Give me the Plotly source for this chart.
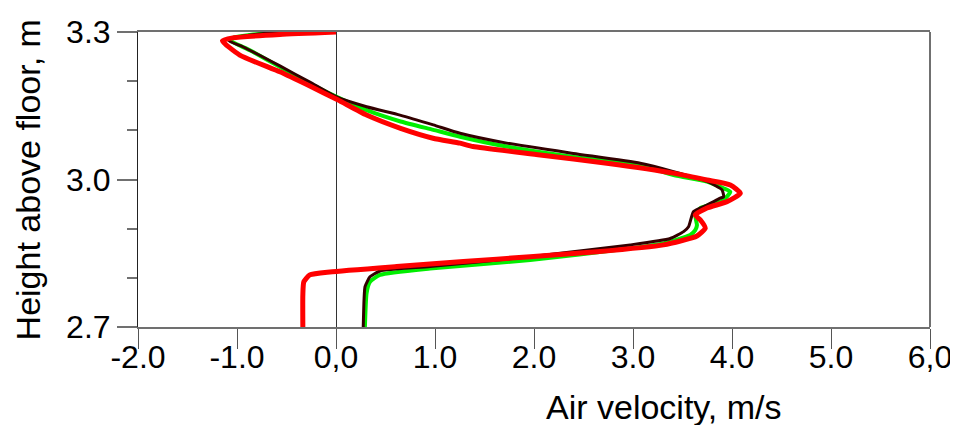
import plotly.graph_objects as go

# Air velocity (m/s) vs height above floor (m)
green_x = [0.0, -0.666, -1.042, -1.063, -0.87, -0.364, 0.006, 0.309, 0.652, 0.983, 1.253, 1.725, 2.398, 3.073, 3.41, 3.747, 3.915, 3.983, 3.912, 3.68, 3.629, 3.646, 3.629, 3.578, 3.308, 2.972, 1.961, 0.95, 0.444, 0.343, 0.309, 0.292]
green_y = [3.3, 3.298, 3.288, 3.282, 3.263, 3.206, 3.168, 3.141, 3.118, 3.101, 3.087, 3.067, 3.046, 3.03, 3.009, 2.996, 2.982, 2.975, 2.958, 2.942, 2.928, 2.907, 2.897, 2.887, 2.87, 2.86, 2.836, 2.819, 2.806, 2.792, 2.769, 2.70]

black_x = [0.0, -0.666, -1.052, -1.083, -0.942, -0.567, -0.264, 0.006, 0.309, 0.646, 0.983, 1.253, 1.725, 2.398, 3.073, 3.41, 3.747, 3.899, 3.915, 3.882, 3.747, 3.612, 3.561, 3.511, 3.376, 2.972, 1.961, 0.95, 0.444, 0.343, 0.293, 0.283, 0.275]
black_y = [3.3, 3.298, 3.288, 3.282, 3.27, 3.231, 3.198, 3.168, 3.148, 3.131, 3.111, 3.094, 3.074, 3.053, 3.033, 3.016, 2.996, 2.979, 2.965, 2.962, 2.948, 2.935, 2.904, 2.894, 2.88, 2.867, 2.843, 2.823, 2.814, 2.802, 2.782, 2.755, 2.70]

red_x = [0.0, -0.567, -1.042, -1.147, -0.972, -0.567, -0.264, 0.017, 0.309, 0.652, 0.98, 1.253, 1.384, 2.062, 2.736, 3.406, 3.747, 3.983, 4.084, 3.949, 3.747, 3.629, 3.679, 3.73, 3.646, 3.308, 2.635, 1.961, 1.286, 0.613, -0.062, -0.264, -0.325, -0.335, -0.335]
red_y = [3.3, 3.295, 3.288, 3.282, 3.253, 3.219, 3.19, 3.162, 3.131, 3.104, 3.084, 3.074, 3.067, 3.05, 3.033, 3.013, 2.999, 2.989, 2.972, 2.955, 2.942, 2.928, 2.918, 2.901, 2.885, 2.867, 2.853, 2.843, 2.833, 2.823, 2.812, 2.806, 2.792, 2.765, 2.70]

x_tickvals = [-2, -1, 0, 1, 2, 3, 4, 5, 6]
x_ticktext = ["-2.0", "-1.0", "0,0", "1.0", "2.0", "3.0", "4.0", "5.0", "6,0"]
y_tickvals = [2.7, 3.0, 3.3]
y_ticktext = ["2.7", "3.0", "3.3"]
y_minor = [2.8, 2.9, 3.1, 3.2]

FONT = "Liberation Sans, Arial, sans-serif"
TICKSIZE = 32
TITLESIZE = 34

fig = go.Figure()
fig.add_trace(go.Scatter(x=green_x, y=green_y, mode="lines",
                         line=dict(color="#00ee00", width=4, shape="spline", smoothing=0.5)))
fig.add_trace(go.Scatter(x=black_x, y=black_y, mode="lines",
                         line=dict(color="#330000", width=3, shape="spline", smoothing=0.5)))
fig.add_trace(go.Scatter(x=red_x, y=red_y, mode="lines",
                         line=dict(color="#ff0000", width=5, shape="spline", smoothing=0.5)))

# page body has an 8px default margin, so the figure is 950x417 placed at (8, 8)
fig.update_layout(
    width=950, height=417,
    margin=dict(l=130, r=28, t=24, b=98),
    paper_bgcolor="white", plot_bgcolor="white",
    showlegend=False,
    font=dict(family=FONT, size=TICKSIZE, color="black"),
    xaxis=dict(range=[-2, 6], tickvals=x_tickvals, ticktext=x_ticktext,
               automargin=False,
               showgrid=False, zeroline=True, zerolinecolor="#333333", zerolinewidth=1,
               showline=True, linecolor="#707070", linewidth=2, mirror=True,
               ticks="outside", ticklen=20, tickcolor="#555555", tickwidth=1,
               ticklabelstandoff=-19,
               tickfont=dict(family=FONT, size=TICKSIZE, color="black")),
    yaxis=dict(range=[2.7, 3.3], tickvals=y_tickvals, ticktext=y_ticktext,
               automargin=False,
               showgrid=False, zeroline=False,
               showline=True, linecolor="#222222", linewidth=1,
               ticks="outside", ticklen=20, tickcolor="#707070", tickwidth=2,
               minor=dict(tickvals=y_minor, ticks="outside", ticklen=10,
                          tickcolor="#707070", tickwidth=2),
               tickfont=dict(family=FONT, size=TICKSIZE, color="black")),
    shapes=[dict(type="line", xref="paper", yref="paper", x0=1, x1=1, y0=0, y1=1,
                 line=dict(color="#707070", width=2))],
    annotations=[
        dict(text="Air velocity, m/s", xref="paper", yref="paper", x=0.664, y=-0.271,
             xanchor="center", yanchor="middle", showarrow=False,
             font=dict(family=FONT, size=TITLESIZE, color="black")),
        dict(text="Height above floor, m", xref="paper", yref="paper", x=-0.139, y=0.5,
             xanchor="center", yanchor="middle", textangle=-90, showarrow=False,
             font=dict(family=FONT, size=TITLESIZE, color="black")),
    ],
)

fig.write_html("out.html")
